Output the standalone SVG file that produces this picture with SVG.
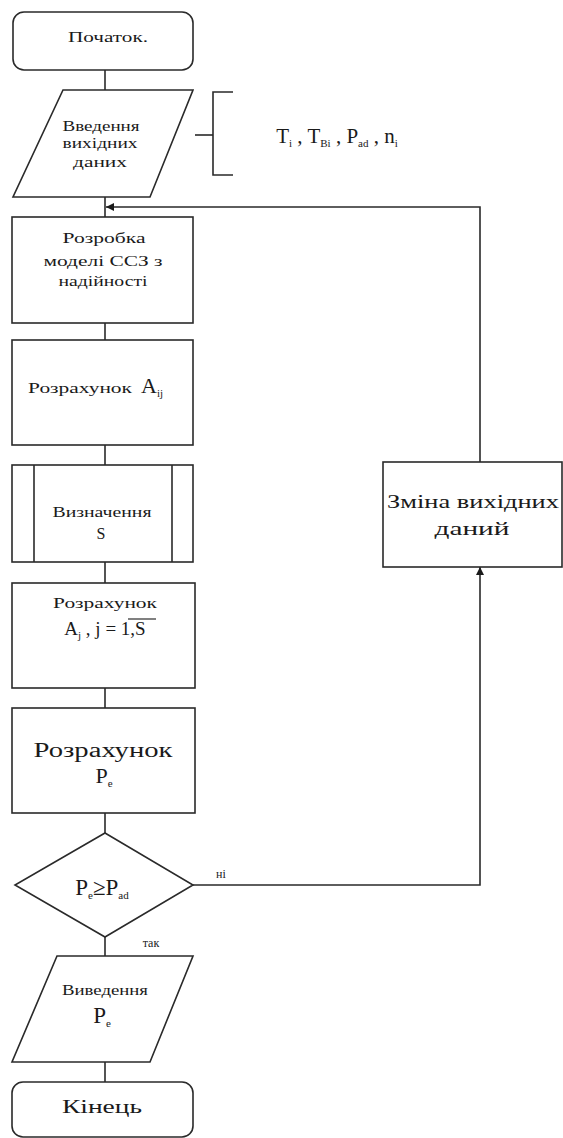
<svg xmlns="http://www.w3.org/2000/svg" width="563" height="1138" viewBox="0 0 563 1138">
<style>
.s{fill:#fff;stroke:#2a2a2a;stroke-width:1.6}
.l{fill:none;stroke:#2a2a2a;stroke-width:1.6}
text{font-family:"Liberation Serif","Times New Roman","DejaVu Serif",serif;fill:#1a1a1a;text-anchor:middle}
.t{font-size:14px}
.b{font-size:20px}
.sub{font-size:11px}
</style>
<defs>
<marker id="ah" viewBox="0 0 10 10" refX="10" refY="5" markerWidth="10" markerHeight="8" markerUnits="userSpaceOnUse" orient="auto">
<path d="M0,0 L10,5 L0,10 z" fill="#1a1a1a"/>
</marker>
</defs>
<rect width="563" height="1138" fill="#fff"/>
<g id="connectors">
<line class="l" x1="105" y1="70" x2="105" y2="90"/>
<line class="l" x1="105" y1="197" x2="105" y2="217"/>
<polyline class="l" points="193,885 480,885 480,567" marker-end="url(#ah)"/>
<polyline class="l" points="480,462 480,207 106,207" marker-end="url(#ah)"/>
<line class="l" x1="105" y1="323" x2="105" y2="340"/>
<line class="l" x1="105" y1="445" x2="105" y2="465"/>
<line class="l" x1="105" y1="562" x2="105" y2="583"/>
<line class="l" x1="105" y1="688" x2="105" y2="708"/>
<line class="l" x1="105" y1="813" x2="105" y2="833"/>
<line class="l" x1="105" y1="937" x2="105" y2="956"/>
<line class="l" x1="105" y1="1062" x2="105" y2="1082"/>
<text x="221" y="878" style="font-size:12px">ні</text>
<text x="151" y="947" style="font-size:12px">так</text>
</g>
<g id="start">
<rect class="s" x="13" y="12" width="180" height="58" rx="11"/>
<text class="t" x="108" y="42" textLength="80" lengthAdjust="spacingAndGlyphs">Початок.</text>
</g>
<g id="input">
<polygon class="s" points="63,90 193,90 150,197 13,197"/>
<text class="t" x="101" y="131" textLength="77" lengthAdjust="spacingAndGlyphs">Введення</text>
<text class="t" x="100" y="148" textLength="75" lengthAdjust="spacingAndGlyphs">вихідних</text>
<text class="t" x="100" y="167" textLength="54" lengthAdjust="spacingAndGlyphs">даних</text>
</g>
<g id="annotation">
<polyline class="l" points="195,135 213,135"/>
<polyline class="l" points="233,92 213,92 213,175 233,175"/>
<text x="337" y="143" style="font-size:21px">T<tspan class="sub" dy="4">i</tspan><tspan dy="-4"> , T</tspan><tspan class="sub" dy="4">Bi</tspan><tspan dy="-4"> , P</tspan><tspan class="sub" dy="4">ad</tspan><tspan dy="-4"> , n</tspan><tspan class="sub" dy="4">i</tspan></text>
</g>
<g id="model">
<rect class="s" x="12" y="217" width="181" height="106"/>
<text class="t" x="104" y="243" textLength="83" lengthAdjust="spacingAndGlyphs">Розробка</text>
<text class="t" x="103" y="266" textLength="119" lengthAdjust="spacingAndGlyphs">моделі ССЗ з</text>
<text class="t" x="103" y="286" textLength="89" lengthAdjust="spacingAndGlyphs">надійності</text>
</g>
<g id="calcAij">
<rect class="s" x="12" y="340" width="181" height="105"/>
<text class="t" x="80" y="393" textLength="104" lengthAdjust="spacingAndGlyphs">Розрахунок</text>
<text x="152" y="393" style="font-size:22px">A<tspan class="sub" dy="4">ij</tspan></text>
</g>
<g id="defineS">
<rect class="s" x="12" y="465" width="181" height="97"/>
<line class="l" x1="34" y1="465" x2="34" y2="562"/>
<line class="l" x1="172" y1="465" x2="172" y2="562"/>
<text class="t" x="102" y="517" textLength="99" lengthAdjust="spacingAndGlyphs">Визначення</text>
<text x="101" y="539" style="font-size:16px">S</text>
</g>
<g id="calcAj">
<rect class="s" x="12" y="583" width="183" height="105"/>
<text class="t" x="105" y="608" textLength="104" lengthAdjust="spacingAndGlyphs">Розрахунок</text>
<text x="105" y="635" style="font-size:19px">A<tspan class="sub" dy="4">j</tspan><tspan dy="-4"> , j = 1,S</tspan></text>
<line class="l" x1="128" y1="619" x2="156" y2="619" style="stroke-width:1.2"/>
</g>
<g id="calcPe">
<rect class="s" x="12" y="708" width="183" height="105"/>
<text class="b" x="103" y="757" textLength="139" lengthAdjust="spacingAndGlyphs">Розрахунок</text>
<text x="104" y="783" style="font-size:22px">P<tspan class="sub" dy="4">e</tspan></text>
</g>
<g id="decision">
<polygon class="s" points="105,833 193,885 105,937 15,885"/>
<text x="102" y="895" style="font-size:23px">P<tspan class="sub" dy="4">e</tspan><tspan dy="-4">≥P</tspan><tspan class="sub" dy="4">ad</tspan></text>
</g>
<g id="change">
<rect class="s" x="383" y="462" width="179" height="105"/>
<text x="473" y="508" style="font-size:18px" textLength="172" lengthAdjust="spacingAndGlyphs">Зміна вихідних</text>
<text x="472" y="535" style="font-size:18px" textLength="75" lengthAdjust="spacingAndGlyphs">даний</text>
</g>
<g id="output">
<polygon class="s" points="57,956 193,956 150,1062 12,1062"/>
<text class="t" x="105" y="995" textLength="86" lengthAdjust="spacingAndGlyphs">Виведення</text>
<text x="102" y="1023" style="font-size:23px">P<tspan class="sub" dy="4">e</tspan></text>
</g>
<g id="end">
<rect class="s" x="12" y="1082" width="181" height="55" rx="11"/>
<text x="102" y="1113" style="font-size:19px" textLength="80" lengthAdjust="spacingAndGlyphs">Кінець</text>
</g>
</svg>
